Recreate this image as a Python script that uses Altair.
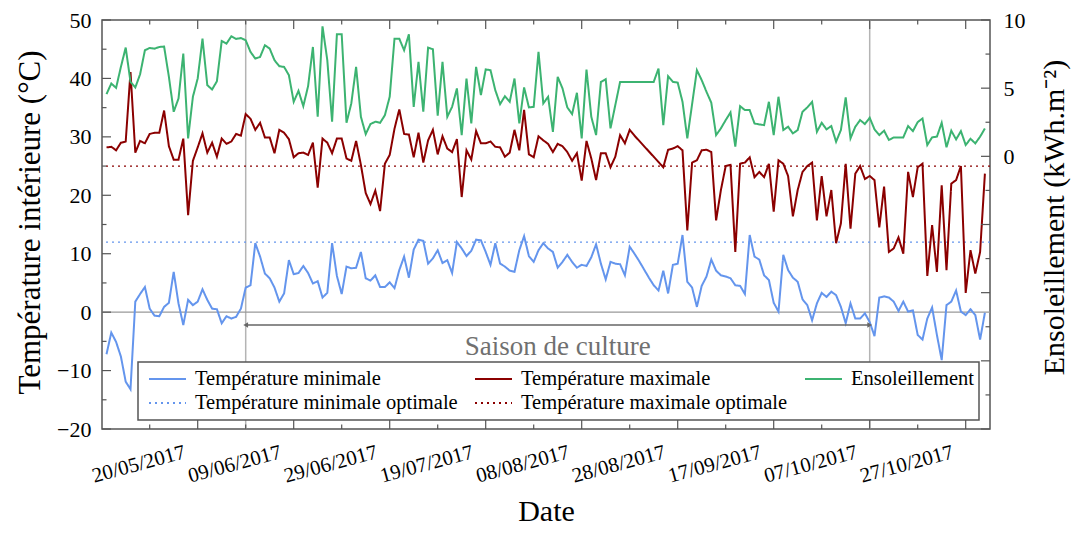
import altair as alt
import pandas as pd

FONT = "Liberation Serif"

# ---------------- data ----------------
START_DATE = "2017-05-01"

T_MIN = [
    -7.2, -3.5, -5.1, -7.6, -11.9, -13.2, 1.8, 3.1, 4.3, 0.6,
    -0.6, -0.7, 0.9, 1.6, 6.9, 1.5, -2.2, 2.1, 1.2, 1.8,
    3.9, 2.1, 0.6, 0.5, -1.9, -0.7, -1.1, -0.8, 0.6, 4.2,
    4.6, 11.8, 9.5, 6.6, 5.8, 4.2, 1.8, 3.2, 8.9, 6.5,
    6.7, 7.9, 6.7, 4.9, 5.3, 2.5, 3.3, 11.8, 6.2, 3.1,
    7.8, 7.5, 7.6, 10.3, 5.8, 5.4, 6.3, 4.3, 4.3, 5.1,
    4.1, 7.2, 9.5, 5.9, 10.7, 12.4, 12.2, 8.3, 9.2, 10.6,
    8.4, 8.9, 6.7, 12.0, 10.9, 9.6, 10.5, 12.4, 12.3, 10.3,
    8.1, 11.8, 8.3, 7.8, 7.1, 6.9, 10.6, 13.0, 9.6, 8.6,
    10.6, 11.8, 10.9, 10.3, 7.6, 8.6, 9.8, 8.6, 7.6, 8.1,
    7.9, 9.4, 11.6, 8.3, 5.6, 8.6, 8.3, 8.2, 6.3, 11.2,
    10.0, 8.7, 7.3, 5.9, 4.6, 3.7, 7.1, 3.2, 8.1, 8.3,
    13.2, 5.2, 4.2, 0.9, 4.5, 6.1, 9.0, 7.1, 6.3, 6.1,
    5.8, 4.6, 4.5, 3.1, 13.2, 9.5, 9.0, 6.3, 5.5, 1.6,
    0.1, 9.8, 7.2, 5.9, 5.2, 2.2, 1.2, -1.4, 1.5, 3.3,
    2.6, 3.5, 2.9, 0.9, -1.9, 1.5, -1.1, -1.1, -0.2, -1.7,
    -4.1, 2.5, 2.7, 2.5, 1.8, 0.2, 1.8, 0.1, 0.3, -3.9,
    -4.7, -1.1, 0.8, -3.9, -8.2, 1.2, 1.8, 3.7, 0.1, -0.5,
    0.5, -0.5, -4.7, -0.1,
]

T_MAX = [
    28.2, 28.3, 27.7, 29.0, 29.2, 41.1, 27.3, 29.3, 28.9, 30.5,
    30.7, 30.7, 34.5, 28.4, 26.1, 26.1, 29.7, 16.6, 25.9, 28.2,
    30.6, 27.3, 29.0, 26.6, 29.7, 28.8, 29.2, 30.5, 30.2, 33.9,
    33.1, 31.2, 32.4, 29.9, 29.9, 27.2, 31.2, 30.7, 29.6, 26.5,
    27.2, 27.3, 26.9, 29.0, 21.3, 29.7, 29.0, 27.2, 29.7, 29.7,
    26.3, 25.9, 29.3, 25.2, 20.4, 18.5, 20.8, 17.3, 25.4, 26.9,
    31.4, 34.7, 30.5, 30.4, 26.5, 30.7, 25.6, 29.4, 31.2, 27.0,
    30.1, 28.0, 27.4, 29.6, 19.7, 27.7, 26.1, 31.0, 28.9, 28.9,
    29.2, 28.3, 28.2, 26.6, 27.3, 31.2, 27.7, 34.6, 27.0, 26.5,
    30.1, 29.4, 28.8, 27.4, 28.8, 28.4, 27.4, 25.9, 27.2, 22.5,
    29.3, 26.3, 22.6, 27.2, 27.2, 24.8, 26.6, 30.3, 28.9, 31.2,
    30.2, 29.3, 28.4, 27.5, 26.6, 25.7, 24.8, 27.8, 28.0, 28.4,
    27.7, 14.0, 25.6, 26.0, 27.7, 27.8, 27.4, 15.7, 20.9, 25.0,
    25.2, 10.3, 25.4, 25.6, 26.5, 23.1, 24.0, 23.1, 25.4, 17.2,
    26.0, 25.4, 23.3, 16.4, 20.9, 24.0, 25.0, 25.6, 15.7, 23.3,
    16.4, 20.9, 11.8, 15.2, 25.4, 14.3, 23.7, 25.0, 22.8, 23.3,
    22.6, 14.5, 21.5, 10.3, 10.9, 12.8, 10.0, 24.0, 19.7, 24.8,
    25.4, 6.2, 14.9, 6.9, 21.7, 7.2, 22.0, 22.6, 25.0, 3.3,
    10.6, 6.6, 10.3, 23.7,
]

ENSOLEILLEMENT = [
    4.56, 5.34, 5.02, 6.56, 7.98, 5.46, 5.05, 6.02, 7.78, 7.95,
    7.90, 8.02, 8.05, 5.83, 3.27, 4.24, 7.54, 1.32, 4.37, 5.71,
    8.63, 5.22, 4.90, 5.51, 8.46, 8.27, 8.80, 8.61, 8.68, 8.51,
    7.66, 7.17, 7.29, 8.15, 7.90, 7.05, 6.61, 6.56, 5.95, 4.00,
    4.80, 3.68, 5.15, 8.02, 2.90, 9.54, 7.05, 2.54, 8.95, 8.95,
    2.46, 3.88, 6.56, 2.90, 1.63, 2.37, 2.54, 2.46, 3.02, 4.37,
    8.63, 8.63, 7.78, 8.95, 3.63, 6.93, 3.27, 7.98, 7.85, 2.98,
    6.93, 2.90, 3.63, 4.98, 1.56, 5.71, 2.41, 6.56, 4.49, 6.37,
    6.32, 4.85, 3.83, 4.41, 4.00, 5.71, 2.41, 5.05, 3.59, 3.63,
    7.66, 3.88, 4.37, 1.80, 5.83, 4.98, 3.59, 3.10, 4.66, 1.32,
    6.37, 2.90, 1.56, 5.46, 5.66, 2.05, 3.76, 5.46, 5.46, 5.46,
    5.46, 5.46, 5.46, 5.46, 5.46, 6.44, 2.29, 5.88, 5.46, 5.41,
    4.00, 1.32, 3.83, 6.32, 5.59, 4.73, 3.93, 1.56, 2.05, 2.66,
    3.22, 0.71, 3.68, 3.39, 3.39, 2.41, 2.34, 2.29, 4.00, 1.56,
    4.37, 1.93, 2.17, 1.68, 1.93, 3.27, 3.59, 4.00, 1.80, 2.46,
    1.98, 2.22, 1.07, 1.93, 4.32, 1.32, 2.17, 2.66, 2.37, 2.83,
    1.98, 1.56, 1.88, 1.20, 1.39, 1.39, 1.39, 2.22, 1.85, 2.51,
    2.78, 0.83, 1.39, 1.44, 2.46, 0.66, 1.88, 1.24, 1.85, 0.83,
    1.29, 0.95, 1.44, 2.05,
]

T_MIN_OPT = 12
T_MAX_OPT = 25
SEASON = ["2017-05-30", "2017-10-07"]
SEASON_LABEL = "Saison de culture"

S_MIN = "Température minimale"
S_MAX = "Température maximale"
S_ENS = "Ensoleillement"
S_MIN_OPT = "Température minimale optimale"
S_MAX_OPT = "Température maximale optimale"
SERIES = [S_MIN, S_MAX, S_ENS, S_MIN_OPT, S_MAX_OPT]

X_LABEL_DATES = ["2017-05-20", "2017-06-09", "2017-06-29", "2017-07-19", "2017-08-08",
                 "2017-08-28", "2017-09-17", "2017-10-07", "2017-10-27"]
X_MINOR_DATES = ["2017-05-10", "2017-05-30", "2017-06-19", "2017-07-09", "2017-07-29",
                 "2017-08-18", "2017-09-07", "2017-09-27", "2017-10-17"]
Y_LABELS = [-20, -10, 0, 10, 20, 30, 40, 50]
Y_MINOR = [-15, -5, 5, 15, 25, 35, 45]
E_LABELS = [0, 5, 10]
E_MAJOR_TICKS = [-20, -15, -10, -5, 0, 5, 10]
E_MINOR_TICKS = [-17.5, -12.5, -7.5, -2.5, 2.5, 7.5]

# ---------------- styling ----------------
BLUE = "#6495ED"
RED = "#8B0000"
GREEN = "#3CB371"
FRAME = "#555555"
COLORS = [BLUE, RED, GREEN, BLUE, RED]
DASHES = [[1, 0], [1, 0], [1, 0], [2, 4], [2, 4]]
W, H = 888, 409
ARROW_T = -2.2
LABEL_T = -6.0
X_TITLE = "Date"
Y_TITLE = "Température intérieure (°C)"
E_TITLE = "Ensoleillement (kWh.m⁻²)"


def iso(d):
    return pd.Timestamp(d).strftime("%Y-%m-%dT%H:%M:%S")


def dt(d):
    t = pd.Timestamp(d)
    return alt.DateTime(year=t.year, month=t.month, date=t.day, hours=t.hour, minutes=t.minute)


n = len(T_MIN)
dates = [iso(pd.Timestamp(START_DATE) + pd.Timedelta(days=i)) for i in range(n)]

temps = pd.DataFrame({
    "date": dates * 2,
    "serie": [S_MIN] * n + [S_MAX] * n,
    "value": T_MIN + T_MAX,
})
ens_df = pd.DataFrame({"date": dates, "serie": S_ENS, "value": ENSOLEILLEMENT})
opt_df = pd.DataFrame({"serie": [S_MIN_OPT, S_MAX_OPT], "value": [T_MIN_OPT, T_MAX_OPT]})
season_df = pd.DataFrame({"date": [iso(s) for s in SEASON]})
s0, s1 = pd.Timestamp(SEASON[0]), pd.Timestamp(SEASON[1])
arrow_df = pd.DataFrame({"date": [iso(s0)], "end": [iso(s1)], "value": [ARROW_T]})
head_df = pd.DataFrame({"date": [iso(s0), iso(s1)], "value": [ARROW_T, ARROW_T],
                        "shape": ["triangle-left", "triangle-right"]})
text_df = pd.DataFrame({"date": [iso(s0 + (s1 - s0) / 2)], "value": [LABEL_T], "label": [SEASON_LABEL]})
zero_df = pd.DataFrame({"value": [0]})

XS = alt.Scale(domain=[dt("2017-04-30 01:30"), dt("2017-11-01 01:30")])
YS = alt.Scale(domain=[-20, 50], nice=False, zero=False)
ES = alt.Scale(domain=[-20, 10], nice=False, zero=False)

LEG = alt.Legend(
    title=None, orient="none", legendX=36, legendY=342, direction="horizontal", columns=3,
    symbolType="stroke", symbolSize=1369, symbolStrokeWidth=2, symbolOffset=5,
    clipHeight=24,
    labelFont=FONT, labelFontSize=20.5, labelColor="black", labelOffset=8, labelLimit=0,
    strokeColor=FRAME, fillColor="white", padding=5, columnPadding=11, rowPadding=0,
    cornerRadius=0,
)
color = alt.Color("serie:N", scale=alt.Scale(domain=SERIES, range=COLORS), legend=LEG)
dash = alt.StrokeDash("serie:N", scale=alt.Scale(domain=SERIES, range=DASHES), legend=LEG)

XAXIS = alt.Axis(
    values=[dt(d) for d in X_LABEL_DATES], format="%d/%m/%Y", labelAngle=345,
    labelAlign="right", labelBaseline="top", labelPadding=12, labelOffset=-16,
    labelFont=FONT, labelFontSize=21, labelColor="black", labelOverlap=False,
    labelFlush=False, domain=False, ticks=False, grid=False, titleFont=FONT,
    titleFontSize=30, titleFontWeight="normal", titleColor="black", titleX=W / 2,
    titleY=82, titleAlign="center", titleBaseline="middle",
)
YAXIS = alt.Axis(
    orient="left", values=Y_LABELS, format="d", labelPadding=11, labelFont=FONT,
    labelFontSize=22, labelColor="black", domain=False, ticks=False, grid=False,
    titleFont=FONT, titleFontSize=31, titleFontWeight="normal", titleColor="black",
    titleX=-72, titleY=202, titleAngle=270, titleAlign="center", titleBaseline="middle",
)
EAXIS = alt.Axis(
    orient="right", values=E_LABELS, format="d", labelPadding=13, labelFont=FONT,
    labelFontSize=22, labelColor="black", domain=False, ticks=False, grid=False,
    titleFont=FONT, titleFontSize=30, titleFontWeight="normal", titleColor="black",
    titleX=64, titleY=197, titleAngle=270, titleAlign="center", titleBaseline="middle",
)


# identical axis definitions in every layer, so that the layers' axes merge
def X(f="date:T"):
    return alt.X(f, scale=XS, axis=XAXIS, title=X_TITLE)


def Y(f="value:Q"):
    return alt.Y(f, scale=YS, axis=YAXIS, title=Y_TITLE)


def E(f="value:Q"):
    return alt.Y(f, scale=ES, axis=EAXIS, title=E_TITLE)


season_rules = alt.Chart(season_df).mark_rule(color="#b4b4b4", strokeWidth=1.5).encode(x=X())
zero_rule = alt.Chart(zero_df).mark_rule(color="#999999", strokeWidth=1.3).encode(y=Y())
opt_rules = alt.Chart(opt_df).mark_rule(strokeWidth=1.3).encode(
    y=Y(), color=color, strokeDash=dash)
temp_lines = alt.Chart(temps).mark_line(strokeWidth=2).encode(
    x=X(), y=Y(), color=color, strokeDash=dash)
arrow = alt.Chart(arrow_df).mark_rule(color="#666666", strokeWidth=1.3).encode(
    x=X(), x2="end:T", y=Y())
heads = alt.Chart(head_df).mark_point(filled=True, size=30, color="#666666", opacity=1).encode(
    x=X(), y=Y(), shape=alt.Shape("shape:N", scale=None))
season_text = alt.Chart(text_df).mark_text(font=FONT, fontSize=27, color="#707070").encode(
    x=X(), y=Y(), text="label:N")

xmaj = pd.DataFrame({"date": [iso(d) for d in X_LABEL_DATES]})
xmin = pd.DataFrame({"date": [iso(d) for d in X_MINOR_DATES]})
ymaj = pd.DataFrame({"value": Y_LABELS})
ymin = pd.DataFrame({"value": Y_MINOR})


def xticks(df, L):
    b = alt.Chart(df).mark_rule(color=FRAME, strokeWidth=1.2).encode(
        x=X(), y=alt.value(H), y2=alt.value(H - L))
    t = alt.Chart(df).mark_rule(color=FRAME, strokeWidth=1.2).encode(
        x=X(), y=alt.value(0), y2=alt.value(L))
    return [b, t]


def lticks(df, L):
    return alt.Chart(df).mark_rule(color=FRAME, strokeWidth=1.2).encode(
        y=Y(), x=alt.value(0), x2=alt.value(L))


temp_group = alt.layer(
    season_rules, zero_rule, opt_rules, temp_lines, arrow, heads, season_text,
    *xticks(xmaj, 9), *xticks(xmin, 4.5), lticks(ymaj, 9), lticks(ymin, 4.5),
)

ens_line = alt.Chart(ens_df).mark_line(strokeWidth=2).encode(
    x=X(), y=E(), color=color, strokeDash=dash)
emaj = pd.DataFrame({"value": E_MAJOR_TICKS})
emin = pd.DataFrame({"value": E_MINOR_TICKS})


def rticks(df, L):
    return alt.Chart(df).mark_rule(color=FRAME, strokeWidth=1.2).encode(
        y=E(), x=alt.value(W), x2=alt.value(W - L))


ens_group = alt.layer(ens_line, rticks(emaj, 9), rticks(emin, 4.5))

chart = (
    alt.layer(temp_group, ens_group)
    .resolve_scale(y="independent")
    .properties(
        width=W, height=H,
        autosize=alt.AutoSizeParams(type="none"),
        padding={"left": 94, "top": 12, "right": 82, "bottom": 98},
    )
    .configure_view(stroke=FRAME, strokeWidth=1.5)
    .configure_legend(strokeWidth=1.5)
)

chart.save("out.html", embed_options={"renderer": "svg", "actions": False})
